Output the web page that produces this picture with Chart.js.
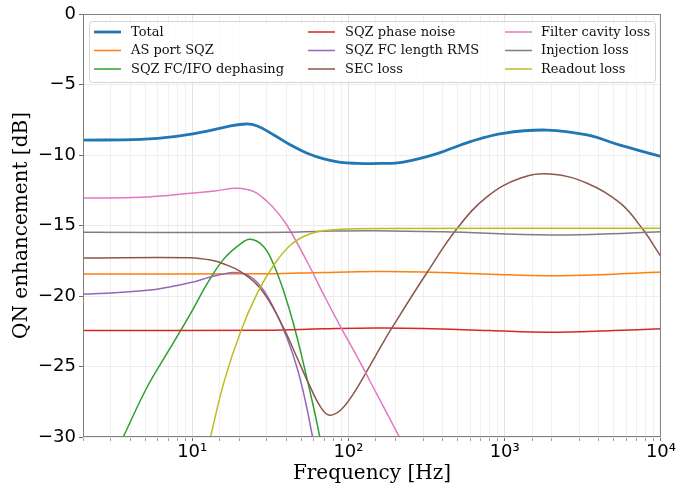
<!DOCTYPE html>
<html>
<head>
<meta charset="utf-8">
<script src="https://cdn.jsdelivr.net/npm/chart.js@4.4.0/dist/chart.umd.min.js"></script>
<style>
  html, body { margin: 0; padding: 0; background: #fff; }
  #wrap { width: 677px; height: 489px; }
</style>
</head>
<body>
<div id="wrap"><canvas id="qnChart" width="677" height="489"></canvas></div>
<script>
// x axis decade labels
const decadeTicks = [10, 100, 1000, 10000];
const decadeLabels = ['10¹', '10²', '10³', '10⁴'];

// series, frequency [Hz] / enhancement [dB]
const totalHz = [2, 4.69, 7.65, 12.5, 16.8, 22, 26.1, 33.3, 42.6, 54.4, 69.6, 88.9, 113.6, 159, 224, 370, 603, 978, 1870, 3365, 5470, 10000];
const totalDb = [-8.95, -8.89, -8.7, -8.3, -7.99, -7.8, -7.94, -8.58, -9.29, -9.88, -10.28, -10.52, -10.59, -10.6, -10.5, -9.9, -9.05, -8.46, -8.23, -8.58, -9.3, -10.1];

const asPortHz = [2, 30, 70, 150, 300, 800, 1900, 5000, 10000];
const asPortDb = [-18.44, -18.43, -18.33, -18.27, -18.3, -18.45, -18.56, -18.45, -18.3];

const dephaseHz = [3, 3.62, 5.18, 7, 9.78, 12.5, 16, 20.4, 23.6, 28.7, 33.3, 38.6, 44.7, 51.8, 60, 65.5, 72];
const dephaseDb = [-32.0, -30, -26.4, -23.95, -21.23, -19.1, -17.35, -16.3, -15.98, -16.5, -17.8, -19.7, -22.06, -24.9, -27.96, -29.97, -32.1];

const phaseHz = [2, 30, 70, 150, 300, 800, 1900, 5000, 10000];
const phaseDb = [-22.45, -22.43, -22.33, -22.27, -22.3, -22.45, -22.57, -22.45, -22.32];

const fcRmsHz = [2, 5.18, 9.78, 13.1, 18.5, 22.5, 27.4, 33.3, 40.5, 47, 53.1, 58.6, 64];
const fcRmsDb = [-19.88, -19.6, -19.05, -18.65, -18.33, -18.5, -19.3, -20.87, -23.0, -25.13, -27.5, -29.86, -32.0];

const secHz = [2, 9.78, 13.1, 16, 20.4, 26.1, 31.7, 38.6, 47, 57.2, 66.1, 74.9, 88.9, 108, 138, 160, 190, 320, 497, 773, 1256, 1953, 3365, 5470, 7570, 10000];
const secDb = [-17.3, -17.28, -17.45, -17.73, -18.27, -19.22, -20.52, -22.3, -24.4, -26.5, -27.85, -28.44, -28.1, -26.9, -24.9, -23.65, -22.25, -18.3, -15.2, -12.95, -11.65, -11.35, -12.0, -13.4, -15.2, -17.2];

const filterHz = [2, 4.69, 9.8, 14, 19.4, 24.8, 30.2, 35, 40.5, 54.4, 69.6, 88.9, 113.6, 138, 212, 260];
const filterDb = [-13.05, -13.0, -12.72, -12.55, -12.36, -12.6, -13.3, -14.05, -15.0, -17.57, -19.93, -22.17, -24.3, -26.08, -30, -31.9];

const injectHz = [2, 20, 40, 70, 150, 400, 2000, 6000, 10000];
const injectDb = [-15.48, -15.5, -15.47, -15.4, -15.37, -15.45, -15.67, -15.55, -15.44];

const readoutHz = [11, 13.1, 16, 20.4, 26.1, 33.3, 42.6, 54.4, 69.6, 88.9, 150, 10000];
const readoutDb = [-33.4, -29.97, -26.07, -22.53, -19.8, -17.8, -16.38, -15.67, -15.37, -15.27, -15.22, -15.2];

const seriesNames = ['Total', 'AS port SQZ', 'SQZ FC/IFO dephasing', 'SQZ phase noise', 'SQZ FC length RMS', 'SEC loss', 'Filter cavity loss', 'Injection loss', 'Readout loss'];
const seriesHz = [totalHz, asPortHz, dephaseHz, phaseHz, fcRmsHz, secHz, filterHz, injectHz, readoutHz];
const seriesDb = [totalDb, asPortDb, dephaseDb, phaseDb, fcRmsDb, secDb, filterDb, injectDb, readoutDb];
const seriesColors = ['#1f77b4', '#ff7f0e', '#2ca02c', '#d62728', '#9467bd', '#8c564b', '#e377c2', '#7f7f7f', '#bcbd22'];

function isDecade(v) {
  return decadeTicks.some(d => Math.abs(v - d) / d < 1e-6);
}

// legend drawn inside the axes, 3 columns, plus the axes frame
const insideLegend = {
  id: 'insideLegend',
  afterDatasetsDraw(chart) {
    const { ctx, chartArea: a } = chart;
    ctx.save();
    ctx.strokeStyle = '#808080';
    ctx.lineWidth = 1;
    ctx.strokeRect(a.left + 0.5, a.top + 0.5, a.right - a.left - 1, a.bottom - a.top - 1);

    const bx = a.left + 6.5, by = a.top + 7.5, bw = 566, bh = 61;
    ctx.beginPath();
    ctx.roundRect(bx, by, bw, bh, 3);
    ctx.fillStyle = 'rgba(255,255,255,0.8)';
    ctx.fill();
    ctx.strokeStyle = '#d4d4d4';
    ctx.stroke();

    const lineX = [11, 225, 422];
    const textX = [48, 262, 458];
    const rowY = [18, 36.5, 55];
    ctx.font = '13px "DejaVu Serif"';
    ctx.textBaseline = 'middle';
    ctx.fillStyle = '#111';
    chart.data.datasets.forEach((ds, i) => {
      const col = Math.floor(i / 3), row = i % 3;
      const y = a.top + rowY[row];
      ctx.beginPath();
      ctx.moveTo(a.left + lineX[col], y);
      ctx.lineTo(a.left + lineX[col] + 27, y);
      ctx.strokeStyle = ds.borderColor;
      ctx.lineWidth = ds.borderWidth;
      ctx.stroke();
      ctx.fillText(ds.label, a.left + textX[col], y + 0.5);
    });
    ctx.restore();
  }
};

const ctx = document.getElementById('qnChart').getContext('2d');
new Chart(ctx, {
  type: 'line',
  data: {
    datasets: seriesNames.map((name, i) => ({
      label: name,
      data: seriesHz[i].map((f, j) => ({ x: f, y: seriesDb[i][j] })),
      borderColor: seriesColors[i],
      backgroundColor: seriesColors[i],
      borderWidth: i === 0 ? 2.8 : 1.5,
      pointRadius: 0,
      fill: false,
      tension: 0.4,
      order: -i
    }))
  },
  options: {
    responsive: false,
    animation: false,
    devicePixelRatio: 1,
    layout: { padding: { top: 14, right: 16, left: 0, bottom: 0 } },
    plugins: {
      legend: { display: false },
      tooltip: { enabled: false }
    },
    scales: {
      x: {
        type: 'logarithmic',
        min: 2,
        max: 10000,
        afterFit(scale) { scale.height = 52; },
        border: { display: false },
        grid: {
          color: c => (c.tick && isDecade(c.tick.value)) ? '#e2e2e2' : '#f0f0f0',
          tickColor: c => (c.tick && isDecade(c.tick.value)) ? '#707070' : '#a0a0a0',
          tickLength: 4
        },
        ticks: {
          autoSkip: false,
          maxRotation: 0,
          padding: 1,
          color: '#000',
          font: { family: 'DejaVu Sans', size: 18 },
          callback: v => {
            const k = decadeTicks.findIndex(d => Math.abs(v - d) / d < 1e-6);
            return k >= 0 ? decadeLabels[k] : '';
          }
        },
        title: {
          display: true,
          text: 'Frequency [Hz]',
          color: '#000',
          font: { family: 'DejaVu Serif', size: 20 },
          padding: { top: 0, bottom: 3 }
        }
      },
      y: {
        min: -30,
        max: 0,
        afterFit(scale) { scale.width = 83; },
        border: { display: false },
        grid: { color: '#ececec', tickColor: '#707070', tickLength: 4 },
        ticks: {
          stepSize: 5,
          padding: 3,
          color: '#000',
          font: { family: 'DejaVu Sans', size: 18 },
          callback: v => v < 0 ? '\u2212' + Math.abs(v) : String(v)
        },
        title: {
          display: true,
          text: 'QN enhancement [dB]',
          color: '#000',
          font: { family: 'DejaVu Serif', size: 20 },
          padding: { top: 10, bottom: 0 }
        }
      }
    }
  },
  plugins: [insideLegend]
});
</script>
</body>
</html>
